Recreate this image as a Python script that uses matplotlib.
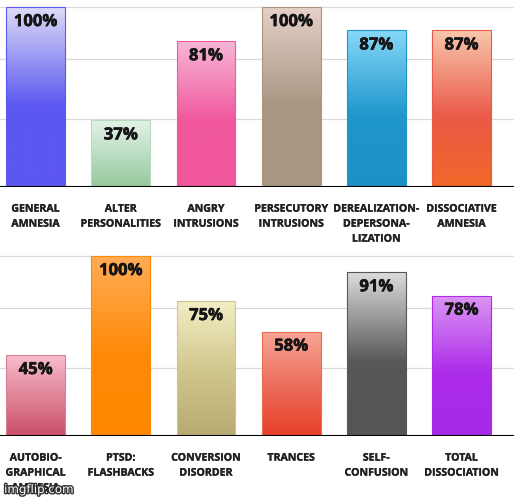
import numpy as np
import matplotlib.pyplot as plt
import matplotlib.patheffects as pe
from matplotlib.colors import to_rgb

plt.rcParams['font.family'] = ['Open Sans', 'DejaVu Sans']

top_labels = ['GENERAL\nAMNESIA', 'ALTER\nPERSONALITIES', 'ANGRY\nINTRUSIONS',
              'PERSECUTORY\nINTRUSIONS', 'DEREALIZATION-\nDEPERSONA-\nLIZATION',
              'DISSOCIATIVE\nAMNESIA']
top_values = [100, 37, 81, 100, 87, 87]
top_colors = [('#dcdcf7', '#5b57f0', '#5b57f0'),
              ('#e4f2e8', '#b6dcc0', '#98c89c'),
              ('#f7b6d6', '#f0579c', '#f0579c'),
              ('#e6d0c8', '#a89682', '#a89682'),
              ('#86d8f8', '#1e96cc', '#1e90c8'),
              ('#f8c6ac', '#ea5a48', '#f06828')]

bottom_labels = ['AUTOBIO-\nGRAPHICAL\nAMNESIA', 'PTSD:\nFLASHBACKS',
                 'CONVERSION\nDISORDER', 'TRANCES', 'SELF-\nCONFUSION',
                 'TOTAL\nDISSOCIATION']
bottom_values = [45, 100, 75, 58, 91, 78]
bottom_colors = [('#f7bccc', '#df8094', '#c84e68'),
                 ('#ffac55', '#ff8a08', '#ff8800'),
                 ('#f2eec4', '#cfc48a', '#b8ab72'),
                 ('#f8a696', '#ec6a58', '#e84028'),
                 ('#dcdcdc', '#575757', '#555555'),
                 ('#dc96f4', '#ac2cea', '#a828e8')]

grid_values = [38, 71, 100]


def gradient(c_top, c_mid, c_bot, n=200):
    t = np.linspace(0, 1, n)
    a, b, c = [np.array(to_rgb(x)) for x in (c_top, c_mid, c_bot)]
    out = np.empty((n, 1, 3))
    for i, v in enumerate(t):
        if v < 0.55:
            s = v / 0.55
            out[i, 0] = a * (1 - s) + b * s
        else:
            s = (v - 0.55) / 0.45
            out[i, 0] = b * (1 - s) + c * s
    return out


def bolder(color, lw):
    return [pe.withStroke(linewidth=lw, foreground=color)]


def draw_row(ax, labels, values, colors):
    x = np.arange(len(values))
    w = 0.69
    bars = ax.bar(x, values, width=w, color='none', zorder=3)
    for bar, cols in zip(bars, colors):
        x0 = bar.get_x()
        h = bar.get_height()
        im = ax.imshow(gradient(*cols), extent=[x0, x0 + w, 0, h],
                       aspect='auto', origin='upper', zorder=2)
        im.set_clip_path(bar)
        bar.set_edgecolor(cols[1])
        bar.set_linewidth(0.8)
    for xi, v in zip(x, values):
        ax.text(xi, v - 7.8, f'{v}%', ha='center', va='center',
                fontsize=12, fontweight='bold', color='#151515', zorder=4,
                path_effects=bolder('#151515', 0.4))
    for g in grid_values:
        ax.axhline(g, color='#dadada', lw=0.9, zorder=1)
    ax.axhline(0, color='black', lw=1.5, zorder=5)
    ax.set_xlim(-0.417, 5.616)
    ax.set_ylim(0, 103.9)
    ax.set_xticks(x)
    ax.set_xticklabels(labels, fontsize=7.6, fontweight='bold',
                       color='#222222', linespacing=1.5)
    for t in ax.get_xticklabels():
        t.set_path_effects(bolder('#222222', 0.2))
    ax.tick_params(axis='x', length=0, pad=12)
    ax.set_yticks([])
    for s in ax.spines.values():
        s.set_visible(False)


fig = plt.figure(figsize=(5.14, 4.99), dpi=100)
ax1 = fig.add_axes([0, 1 - 187 / 499, 1, 187 / 499])
ax2 = fig.add_axes([0, 1 - 436 / 499, 1, 187 / 499])
draw_row(ax1, top_labels, top_values, top_colors)
draw_row(ax2, bottom_labels, bottom_values, bottom_colors)

fig.text(0.008, 0.012, 'imgflip.com', fontsize=8.5, color='white',
         fontfamily='DejaVu Sans',
         path_effects=[pe.withStroke(linewidth=2, foreground='#333333')])

fig.savefig('out.png', dpi=100)
